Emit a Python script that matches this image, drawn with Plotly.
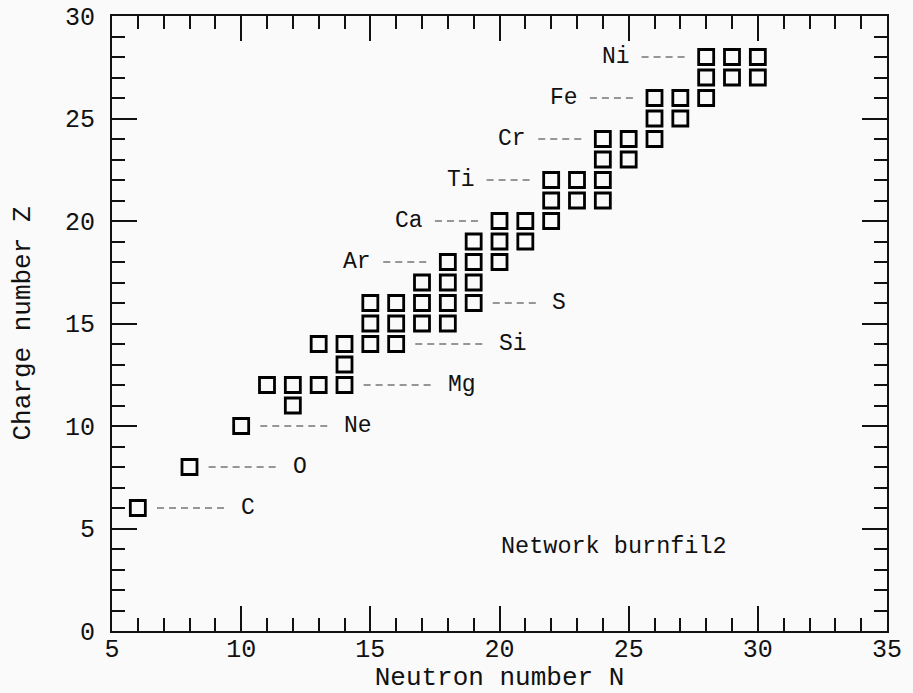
import plotly.graph_objects as go

# ---- data: isotopes in the network (neutron number N, charge number Z) ----
iso_N = [6, 8, 10,
         11, 12, 12, 13, 14, 14, 13, 14,
         15, 16, 15, 16, 17, 18, 15, 16, 17, 18, 19,
         17, 18, 19, 18, 19, 20, 19, 20, 21, 20, 21, 22,
         22, 23, 24, 22, 23, 24, 24, 25, 24, 25, 26,
         26, 27, 26, 27, 28, 28, 29, 30, 28, 29, 30]
iso_Z = [6, 8, 10,
         12, 12, 11, 12, 12, 13, 14, 14,
         14, 14, 15, 15, 15, 15, 16, 16, 16, 16, 16,
         17, 17, 17, 18, 18, 18, 19, 19, 19, 20, 20, 20,
         21, 21, 21, 22, 22, 22, 23, 23, 24, 24, 24,
         25, 25, 26, 26, 26, 27, 27, 27, 28, 28, 28]

# element labels: symbol, Z, neutron number of the isotope the label points at, side
el_sym = ["C", "O", "Ne", "Mg", "Si", "S", "Ar", "Ca", "Ti", "Cr", "Fe", "Ni"]
el_Z = [6, 8, 10, 12, 14, 16, 18, 20, 22, 24, 26, 28]
el_N = [6, 8, 10, 14, 16, 19, 18, 20, 22, 24, 26, 28]
el_side = ["right", "right", "right", "right", "right", "right",
           "left", "left", "left", "left", "left", "left"]

x_ticks = [5, 10, 15, 20, 25, 30, 35]
y_ticks = [0, 5, 10, 15, 20, 25, 30]
network_name = "Network burnfil2"

FONT = "Liberation Mono"
INK = "#111111"

fig = go.Figure()

# leader lines
for sym, z, n, side in zip(el_sym, el_Z, el_N, el_side):
    if side == "right":
        length = 1.8 if sym == "S" else 2.75
        x0, x1 = n + 0.74, n + 0.74 + length
        tx, anchor = x1 + 0.42, "left"
    else:
        x0, x1 = n - 2.5, n - 0.78
        tx, anchor = x0 - 0.38, "right"
    fig.add_trace(go.Scatter(
        x=[x0, x1], y=[z, z], mode="lines", hoverinfo="skip", showlegend=False,
        line=dict(color="#333333", width=1.2, dash="7px,5px")))
    fig.add_annotation(x=tx, y=z, text=sym, showarrow=False, xanchor=anchor,
                       yanchor="middle", font=dict(family=FONT, size=23, color=INK))

# isotope squares
fig.add_trace(go.Scatter(
    x=iso_N, y=iso_Z, mode="markers", showlegend=False,
    marker=dict(symbol="square-open", size=15, color="#000000",
                line=dict(width=2.8, color="#000000"))))

fig.add_annotation(x=24.45, y=4.1, text=network_name, showarrow=False,
                   xanchor="center", yanchor="middle",
                   font=dict(family=FONT, size=23.5, color=INK))

axis_common = dict(
    showline=True, linecolor=INK, linewidth=2, mirror="ticks",
    ticks="inside", ticklen=25, tickwidth=1.6, tickcolor=INK,
    showgrid=False, zeroline=False,
    tickfont=dict(family=FONT, size=25, color=INK),
    minor=dict(ticks="inside", ticklen=13, tickwidth=1.6, tickcolor=INK,
               dtick=1, showgrid=False),
)

fig.update_xaxes(range=[5, 35], tickvals=x_ticks, ticktext=[str(v) for v in x_ticks],
                 title=dict(text="Neutron number N", font=dict(family=FONT, size=26, color=INK),
                            standoff=18),
                 ticklabelstandoff=-6, **axis_common)
fig.update_yaxes(range=[0, 30], tickvals=y_ticks, ticktext=[str(v) for v in y_ticks],
                 title=dict(text="Charge number Z", font=dict(family=FONT, size=26, color=INK),
                            standoff=27),
                 ticklabelstandoff=10, **axis_common)

fig.update_layout(
    width=913, height=693,
    margin=dict(l=112, r=26, t=16, b=62, autoexpand=False),
    paper_bgcolor="#fafafa", plot_bgcolor="#fafafa",
    showlegend=False,
)

fig.write_html("out.html", config={"displayModeBar": False},
               post_script="document.body.style.margin='0px';document.body.style.overflow='hidden';")
